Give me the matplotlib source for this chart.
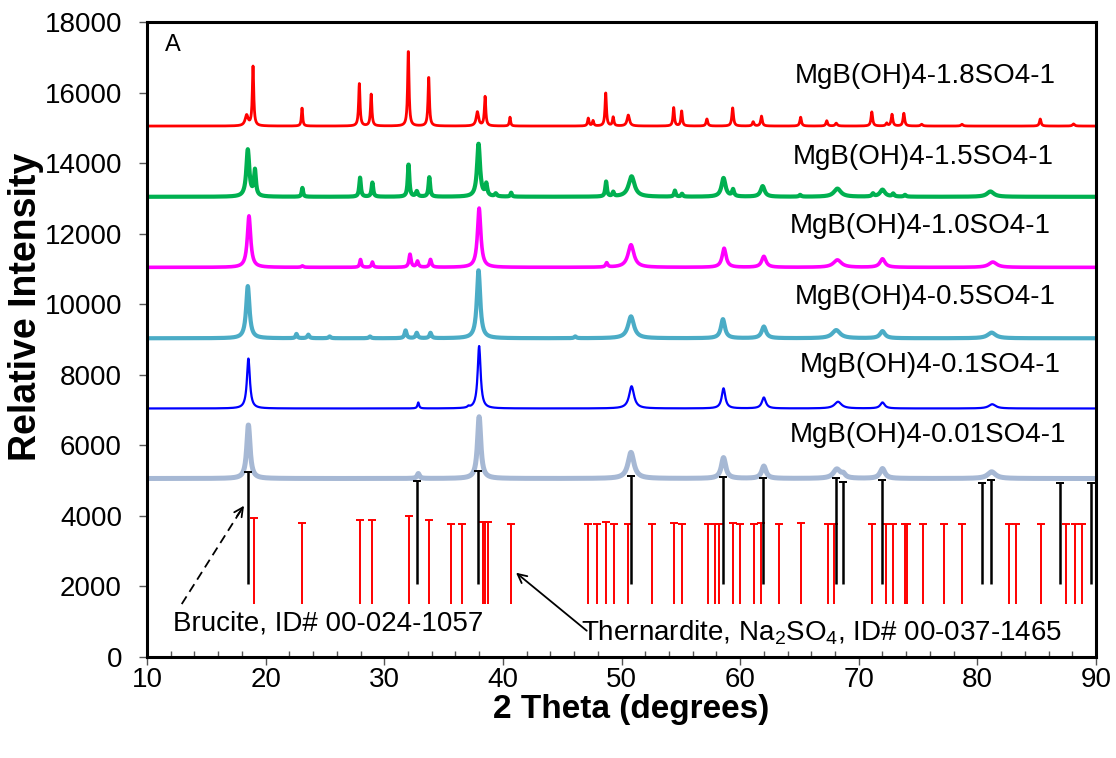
import numpy as np
import matplotlib
matplotlib.use("Agg")
import matplotlib.pyplot as plt
from matplotlib.ticker import MultipleLocator

plt.rcParams["font.family"] = ["Liberation Sans", "DejaVu Sans"]
plt.rcParams["mathtext.default"] = "regular"

# peaks per pattern: (2theta, height above baseline, half width)
p_001 = [(18.55, 1520, 0.17), (32.87, 140, 0.12), (38.0, 1750, 0.17), (50.8, 740, 0.3),
         (58.6, 590, 0.22), (62.0, 350, 0.22), (68.15, 260, 0.35), (68.7, 100, 0.2),
         (72.0, 280, 0.25), (81.2, 190, 0.4)]
p_01 = [(18.55, 1420, 0.15), (32.87, 170, 0.08), (37.1, 40, 0.1), (38.0, 1770, 0.15),
        (50.85, 630, 0.25), (58.6, 570, 0.18), (62.0, 310, 0.2), (68.25, 190, 0.35),
        (72.0, 170, 0.22), (81.25, 120, 0.35)]
p_05 = [(18.5, 1480, 0.17), (22.6, 120, 0.08), (23.6, 100, 0.1), (25.4, 50, 0.1),
        (28.8, 50, 0.1), (31.8, 220, 0.1), (32.74, 150, 0.1), (33.9, 150, 0.1),
        (37.95, 1930, 0.17), (46.1, 50, 0.1), (50.8, 620, 0.3), (58.55, 540, 0.2),
        (62.0, 330, 0.22), (68.1, 230, 0.4), (72.0, 200, 0.25), (81.2, 160, 0.4)]
p_10 = [(18.6, 1460, 0.17), (23.1, 40, 0.1), (28.0, 220, 0.08), (29.0, 150, 0.08),
        (32.17, 370, 0.1), (32.8, 170, 0.1), (33.9, 220, 0.1), (38.0, 1680, 0.17),
        (48.75, 120, 0.1), (50.8, 640, 0.3), (58.65, 540, 0.2), (62.0, 310, 0.22),
        (68.2, 210, 0.4), (72.0, 240, 0.25), (81.3, 150, 0.4)]
p_15 = [(18.5, 1330, 0.15), (19.1, 720, 0.1), (23.1, 250, 0.07), (27.96, 540, 0.08),
        (29.0, 400, 0.08), (32.05, 920, 0.08), (32.74, 150, 0.1), (33.8, 550, 0.08),
        (37.95, 1500, 0.15), (38.6, 330, 0.1), (39.4, 80, 0.1), (40.7, 110, 0.07),
        (48.7, 420, 0.08), (49.3, 120, 0.08), (50.85, 580, 0.3), (54.5, 170, 0.08),
        (55.1, 80, 0.08), (58.6, 530, 0.2), (59.4, 190, 0.1), (61.9, 300, 0.2),
        (65.06, 50, 0.1), (68.2, 230, 0.35), (71.2, 80, 0.1), (72.0, 200, 0.25),
        (72.9, 80, 0.1), (73.9, 50, 0.1), (81.1, 150, 0.35)]
p_18 = [(18.4, 300, 0.15), (18.94, 1680, 0.07), (23.07, 520, 0.06), (27.9, 1200, 0.07),
        (28.9, 900, 0.07), (32.03, 2150, 0.07), (33.75, 1400, 0.07), (37.85, 400, 0.12),
        (38.5, 830, 0.07), (40.6, 250, 0.06), (47.2, 220, 0.07), (47.6, 150, 0.07),
        (48.67, 950, 0.07), (49.3, 250, 0.07), (50.57, 310, 0.12), (54.4, 520, 0.07),
        (55.07, 430, 0.07), (57.2, 200, 0.08), (59.37, 520, 0.08), (61.1, 120, 0.08),
        (61.8, 280, 0.08), (65.1, 250, 0.08), (67.3, 150, 0.08), (68.1, 80, 0.1),
        (71.1, 400, 0.08), (72.35, 80, 0.08), (72.8, 330, 0.08), (73.8, 360, 0.08),
        (75.3, 50, 0.1), (78.7, 50, 0.1), (85.3, 200, 0.08), (88.1, 60, 0.1)]

names = ["MgB(OH)4-0.01SO4-1", "MgB(OH)4-0.1SO4-1", "MgB(OH)4-0.5SO4-1",
         "MgB(OH)4-1.0SO4-1", "MgB(OH)4-1.5SO4-1", "MgB(OH)4-1.8SO4-1"]
peaks = [p_001, p_01, p_05, p_10, p_15, p_18]
baselines = [5060, 7045, 9035, 11045, 13045, 15050]
label_x = [64.22, 65.06, 64.64, 64.22, 64.47, 64.64]
label_y = [6293, 8277, 10204, 12217, 14172, 16468]
colors = ["#A6B8D4", "#0000FF", "#4BACC6", "#FF00FF", "#00B050", "#FF0000"]
widths = [3.6, 1.6, 3.0, 2.6, 3.0, 2.0]

# reference patterns
brucite_pos = [18.49, 32.74, 37.93, 50.8, 58.53, 61.96, 68.09, 68.65, 71.94,
               80.37, 81.13, 86.98, 89.57]
brucite_top = [5235, 5000, 5272, 5139, 5111, 5064, 5064, 4970, 5017,
               4923, 5017, 4923, 4923]
brucite_bottom = 2060
thenardite_pos = [19.05, 23.10, 27.96, 28.94, 32.09, 33.75, 35.63, 36.53, 38.29,
                  38.48, 38.71, 40.65, 47.2, 47.91, 48.67, 49.38, 50.58, 52.6,
                  54.46, 55.13, 57.27, 57.89, 58.22, 59.38, 60.0, 61.18, 61.79,
                  63.29, 65.1, 67.44, 67.95, 71.1, 72.31, 72.87, 73.9, 74.1,
                  75.4, 77.22, 78.69, 82.68, 83.24, 85.38, 87.49, 88.25, 88.86]
thenardite_top = [3931, 3789, 3883, 3883, 4006, 3883, 3761, 3761, 3817,
                  3817, 3817, 3775, 3761, 3761, 3825, 3780, 3761, 3761,
                  3790, 3761, 3761, 3761, 3761, 3790, 3761, 3761, 3790,
                  3761, 3790, 3761, 3761, 3761, 3761, 3761, 3761, 3761,
                  3761, 3761, 3761, 3761, 3761, 3761, 3761, 3761, 3761]
thenardite_bottom = 1510


def profile(x, base, plist):
    y = np.full_like(x, float(base))
    for c, h, w in plist:
        y += h / (1.0 + ((x - c) / w) ** 2)
    return y


tt = np.arange(10.0, 90.0, 0.02)

fig = plt.figure(figsize=(11.16, 7.58), dpi=100)
ax = fig.add_axes([0.1317, 0.1332, 0.8504, 0.8378])

for name, pl, b, c, lw, lx, ly in zip(names, peaks, baselines, colors, widths, label_x, label_y):
    ax.plot(tt, profile(tt, b, pl), color=c, lw=lw, solid_joinstyle="round")
    ax.text(lx, ly, name, fontsize=20, ha="left", va="center")

ax.vlines(thenardite_pos, thenardite_bottom, thenardite_top, color="#FF0000", lw=1.4)
ax.plot(thenardite_pos, thenardite_top, ls="none", marker="_", ms=6, mew=1.4, color="#FF0000")
ax.vlines(brucite_pos, brucite_bottom, brucite_top, color="black", lw=1.8, zorder=3)
ax.plot(brucite_pos, brucite_top, ls="none", marker="_", ms=6, mew=1.4, color="black", zorder=3)

ax.text(11.5, 17350, "A", fontsize=17, ha="left", va="center")
ax.text(12.2, 950, "Brucite, ID# 00-024-1057", fontsize=20, ha="left", va="center")
ax.text(46.6, 700, "Thernardite, Na$_2$SO$_4$, ID# 00-037-1465", fontsize=20,
        ha="left", va="center")

# dashed pointer to the brucite sticks, solid one to the thenardite sticks
ax.plot([12.93, 18.0], [1502, 4200], color="black", lw=1.3, ls=(0, (5, 3)))
ax.annotate("", xy=(18.18, 4289), xytext=(17.6, 4000),
            arrowprops=dict(arrowstyle="->", color="black", lw=1.3, mutation_scale=16,
                            shrinkA=0, shrinkB=0))
ax.annotate("", xy=(41.11, 2390), xytext=(47.07, 746),
            arrowprops=dict(arrowstyle="->", color="black", lw=1.3, mutation_scale=16,
                            shrinkA=0, shrinkB=0))

ax.set_xlim(10, 90)
ax.set_ylim(0, 18000)
ax.xaxis.set_major_locator(MultipleLocator(10))
ax.xaxis.set_minor_locator(MultipleLocator(2))
ax.yaxis.set_major_locator(MultipleLocator(2000))
ax.tick_params(axis="both", which="major", direction="out", length=6, width=1,
               labelsize=20, color="#555555")
ax.tick_params(axis="y", which="major", pad=12)
ax.tick_params(axis="x", which="major", pad=1)
ax.tick_params(axis="x", which="minor", direction="in", length=4, width=1, color="#555555")
for s in ax.spines.values():
    s.set_linewidth(2.2)

ax.set_xlabel("2 Theta (degrees)", fontsize=24, fontweight="bold")
ax.set_ylabel("Relative Intensity", fontsize=27, fontweight="bold")
ax.xaxis.set_label_coords(0.51, -0.058)
ax.xaxis.label.set_va("top")
ax.yaxis.set_label_coords(-0.108, 0.551)

fig.savefig("out.png", dpi=100)
